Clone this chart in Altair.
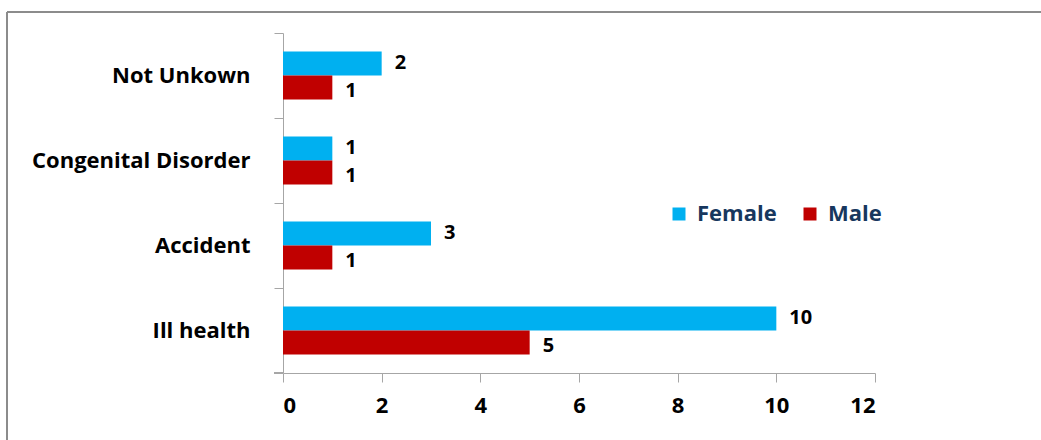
import altair as alt
import pandas as pd

categories = ["Not Unkown", "Congenital Disorder", "Accident", "Ill health"]
female = [2, 1, 3, 10]
male = [1, 1, 1, 5]
series = ["Female", "Male"]
colors = ["#00B0F0", "#C00000"]
x_ticks = [0, 2, 4, 6, 8, 10, 12]

rows = []
for c, f, m in zip(categories, female, male):
    rows.append({"cause": c, "sex": "Female", "count": f})
    rows.append({"cause": c, "sex": "Male", "count": m})
df = pd.DataFrame(rows)

FONT = "Open Sans"
FS = 22
W, H = 592, 340

y_enc = alt.Y("cause:N", sort=categories, title=None,
              scale=alt.Scale(paddingInner=0, paddingOuter=0),
              axis=alt.Axis(bandPosition=0, labelFont=FONT, labelFontSize=FS,
                            labelFontWeight="bold", labelColor="#000000",
                            labelPadding=24, tickSize=9, tickColor="#A6A6A6",
                            domainColor="#A6A6A6", grid=False, labelLimit=400))
x_enc = alt.X("count:Q", title=None,
              scale=alt.Scale(domain=[0, 12], nice=False),
              axis=alt.Axis(values=x_ticks, labelFont=FONT, labelFontSize=FS,
                            labelFontWeight="bold", labelColor="#000000",
                            labelPadding=13, tickSize=9, tickColor="#A6A6A6",
                            domainColor="#A6A6A6", grid=False))
yoff = alt.YOffset("sex:N", sort=series,
                   scale=alt.Scale(paddingInner=0, paddingOuter=0.77))

bars = alt.Chart(df).mark_bar().encode(
    y=y_enc, x=x_enc, yOffset=yoff,
    color=alt.Color("sex:N", sort=series, title=None,
                    scale=alt.Scale(domain=series, range=colors),
                    legend=alt.Legend(orient="none", legendX=385, legendY=170,
                                      direction="horizontal", symbolType="square",
                                      symbolSize=169, symbolStrokeWidth=0,
                                      labelFont=FONT, labelFontSize=FS,
                                      labelFontWeight="bold", labelColor="#17375E",
                                      columnPadding=22, labelOffset=7)),
)

label_base = alt.Chart(df).encode(
    y=alt.Y("cause:N", sort=categories), x="count:Q", yOffset=yoff,
    text="count:Q",
)
label_style = dict(align="left", baseline="middle", dx=13, font=FONT,
                   fontSize=20, fontWeight="bold", color="#000000")
labels_f = label_base.mark_text(dy=0, **label_style).transform_filter(
    alt.datum.sex == "Female")
labels_m = label_base.mark_text(dy=3, **label_style).transform_filter(
    alt.datum.sex == "Male")

bottom_tick = alt.Chart(df).mark_rule(color="#A6A6A6").encode(
    x=alt.value(-9), x2=alt.value(0), y=alt.value(H))

frame_top = alt.Chart(df).mark_rule(color="#8C8C8C", strokeWidth=2).encode(
    x=alt.value(-276), x2=alt.value(W + 170), y=alt.value(-21))
frame_left = alt.Chart(df).mark_rule(color="#8C8C8C", strokeWidth=2).encode(
    x=alt.value(-276), y=alt.value(-21), y2=alt.value(H + 70))

chart = alt.layer(bars, labels_f, labels_m, bottom_tick, frame_top, frame_left).properties(
    width=W, height=H,
    autosize=alt.AutoSizeParams(type="none"),
    padding={"left": 283, "top": 33, "right": 166, "bottom": 67},
    background="#FFFFFF",
).configure_view(stroke=None)

chart.save("out.html", embed_options={"renderer": "svg", "actions": False})
